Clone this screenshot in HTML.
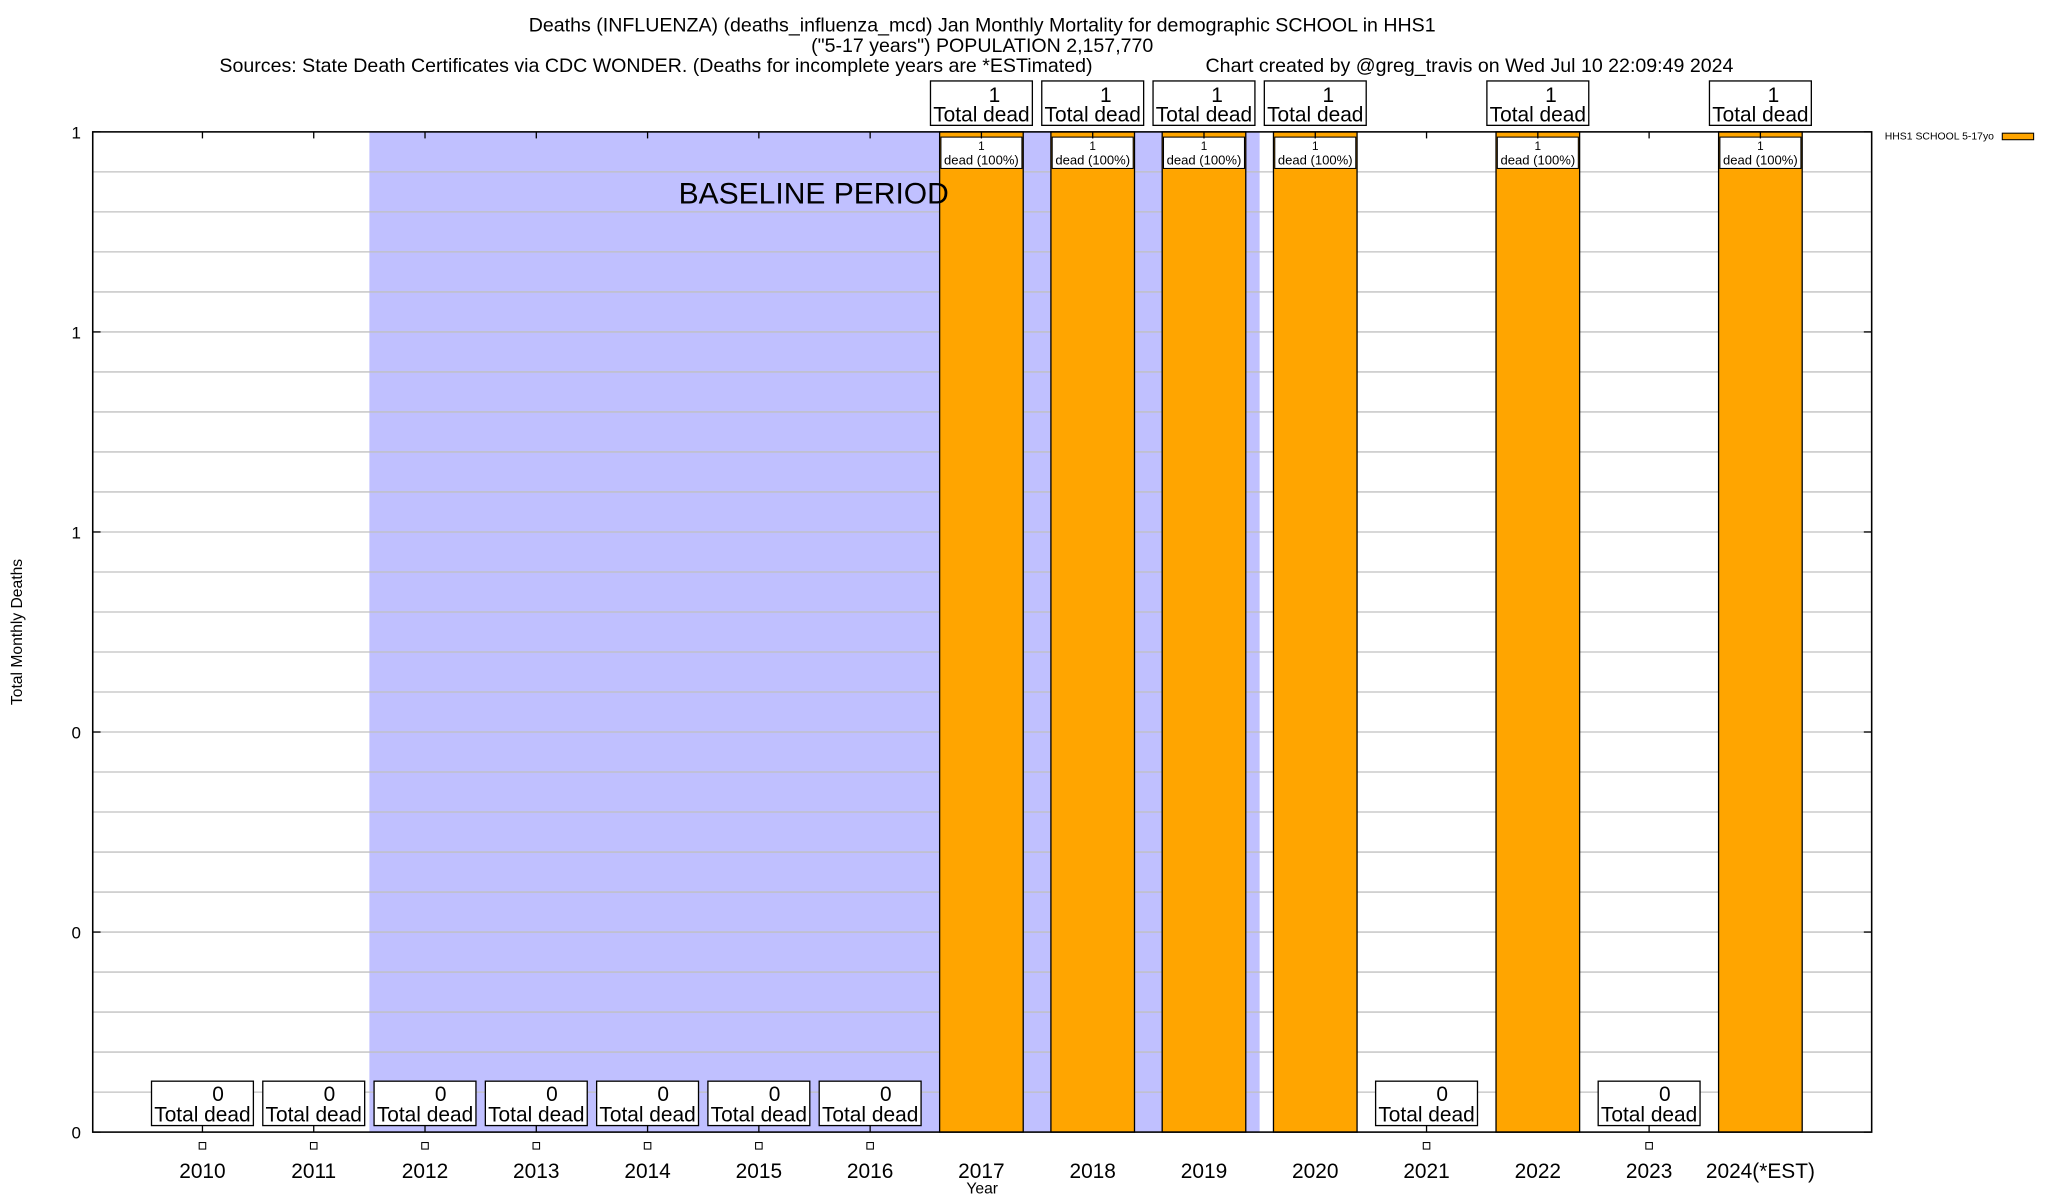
<!DOCTYPE html>
<html><head><meta charset="utf-8"><style>
html,body{margin:0;padding:0;background:#fff}
svg{display:block;font-family:"Liberation Sans",Arial,sans-serif}
</style></head><body>
<svg id="chart" width="2048" height="1200" viewBox="0 0 1568 919" preserveAspectRatio="none" xmlns="http://www.w3.org/2000/svg">
<rect width="1568" height="919" fill="#fff"/>
<g id="titles" font-size="15" fill="#000" text-anchor="middle">
<text x="752" y="24">Deaths (INFLUENZA) (deaths_influenza_mcd) Jan Monthly Mortality for demographic SCHOOL in HHS1</text>
<text x="752" y="40">("5-17 years") POPULATION 2,157,770</text>
<text x="168" y="55" text-anchor="start">Sources: State Death Certificates via CDC WONDER. (Deaths for incomplete years are *ESTimated)</text>
<text x="923" y="55" text-anchor="start">Chart created by @greg_travis on Wed Jul 10 22:09:49 2024</text>
</g>
<g id="plot"></g>
<text x="17" y="484" font-size="12" text-anchor="middle" transform="rotate(-90 17 484)">Total Monthly Deaths</text>
<text x="752" y="914" font-size="12" text-anchor="middle">Year</text>
<g>
<text x="1443" y="107" font-size="8">HHS1 SCHOOL 5-17yo</text>
<rect x="1533" y="102" width="24" height="5" fill="#ffa500" stroke="#000" stroke-width="0.8"/>
</g>
</svg>
<script>
const categories = ["2010","2011","2012","2013","2014","2015","2016","2017","2018","2019","2020","2021","2022","2023","2024(*EST)"];
const deaths = [0,0,0,0,0,0,0,1,1,1,1,0,1,0,1];
const yTickLabels = ["0","0","0","1","1","1"];
const baselineStart = "2012", baselineEnd = "2019";

const NS = "http://www.w3.org/2000/svg";
const L = 71, R = 1433, T = 101, B = 867;
const step = 85.2, x0 = 155;
const xc = i => x0 + i * step;
const yMax = 1;
const y = v => B - (v / yMax) * (B - T);
const g = document.getElementById('plot');
function mk(tag, attrs, parent) {
  const e = document.createElementNS(NS, tag);
  for (const k in attrs) e.setAttribute(k, attrs[k]);
  (parent || g).appendChild(e);
  return e;
}
const bs = categories.indexOf(baselineStart), be = categories.indexOf(baselineEnd);
const shade = mk('rect', {x: xc(bs) - step / 2, y: T, width: (be - bs + 1) * step, height: B - T, fill: '#c0c0ff'});


for (let k = 1; k < 25; k++) {
  const v = k / 25 * yMax;
  const ln = mk('line', {x1: L, x2: R, y1: y(v), y2: y(v), stroke: '#c0c0c0', 'stroke-width': 1});
  
  
}
yTickLabels.forEach((lab, i) => {
  const v = i / (yTickLabels.length - 1) * yMax;
  const t = mk('text', {x: 62, y: y(v) + 5, 'font-size': 13, 'text-anchor': 'end'});
  t.textContent = lab;
  
  
  mk('line', {x1: L, x2: L + 6, y1: y(v), y2: y(v), stroke: '#000'});
  mk('line', {x1: R - 6, x2: R, y1: y(v), y2: y(v), stroke: '#000'});
});
const bw = 64;
categories.forEach((c, i) => {
  const v = deaths[i], cx = xc(i);
  if (v > 0) {
    const b = mk('rect', {x: cx - bw / 2, y: y(v), width: bw, height: B - y(v), fill: '#ffa500', stroke: '#000', 'stroke-width': 1});
    
    
    const ib = mk('rect', {x: cx - 31, y: y(v) + 4, width: 62, height: 24, fill: '#fff', stroke: '#000', 'stroke-width': 0.8});
    
    
    const t1 = mk('text', {x: cx, y: y(v) + 14, 'font-size': 9, 'text-anchor': 'middle'});
    t1.textContent = String(v);
    
    
    const t2 = mk('text', {x: cx, y: y(v) + 25, 'font-size': 10, 'text-anchor': 'middle'});
    t2.textContent = 'dead (100%)';
    
    
    const ob = mk('rect', {x: cx - 39, y: 62, width: 78, height: 34, fill: '#fff', stroke: '#000', 'stroke-width': 1});
    
    
    const o1 = mk('text', {x: cx + 10, y: 78, 'font-size': 16, 'text-anchor': 'middle'});
    o1.textContent = String(v);
    
    
    const o2 = mk('text', {x: cx, y: 93, 'font-size': 16, 'text-anchor': 'middle'});
    o2.textContent = 'Total dead';
    
    
  } else {
    mk('line', {x1: cx, x2: cx, y1: B - 5, y2: B, stroke: '#000'});
    const zb = mk('rect', {x: cx - 39, y: B - 39, width: 78, height: 34, fill: '#fff', stroke: '#000', 'stroke-width': 1});
    
    
    const z1 = mk('text', {x: cx + 12, y: B - 24, 'font-size': 16, 'text-anchor': 'middle'});
    z1.textContent = String(v);
    
    
    const z2 = mk('text', {x: cx, y: B - 8, 'font-size': 16, 'text-anchor': 'middle'});
    z2.textContent = 'Total dead';
    
    
    const sq = mk('rect', {x: cx - 2.5, y: B + 8, width: 5, height: 5, fill: '#fff', stroke: '#000', 'stroke-width': 0.8});
    
    
  }
  mk('line', {x1: cx, x2: cx, y1: T, y2: T + 5, stroke: '#000'});
  const xl = mk('text', {x: cx, y: B + 35, 'font-size': 16, 'text-anchor': 'middle'});
  xl.textContent = c;
  
  
});
const bt = mk('text', {x: 623, y: 156, 'font-size': 23, 'text-anchor': 'middle'});
bt.textContent = 'BASELINE PERIOD';


const frame = mk('rect', {x: L, y: T, width: R - L, height: B - T, fill: 'none', stroke: '#000', 'stroke-width': 1.2});


</script>
</body></html>
